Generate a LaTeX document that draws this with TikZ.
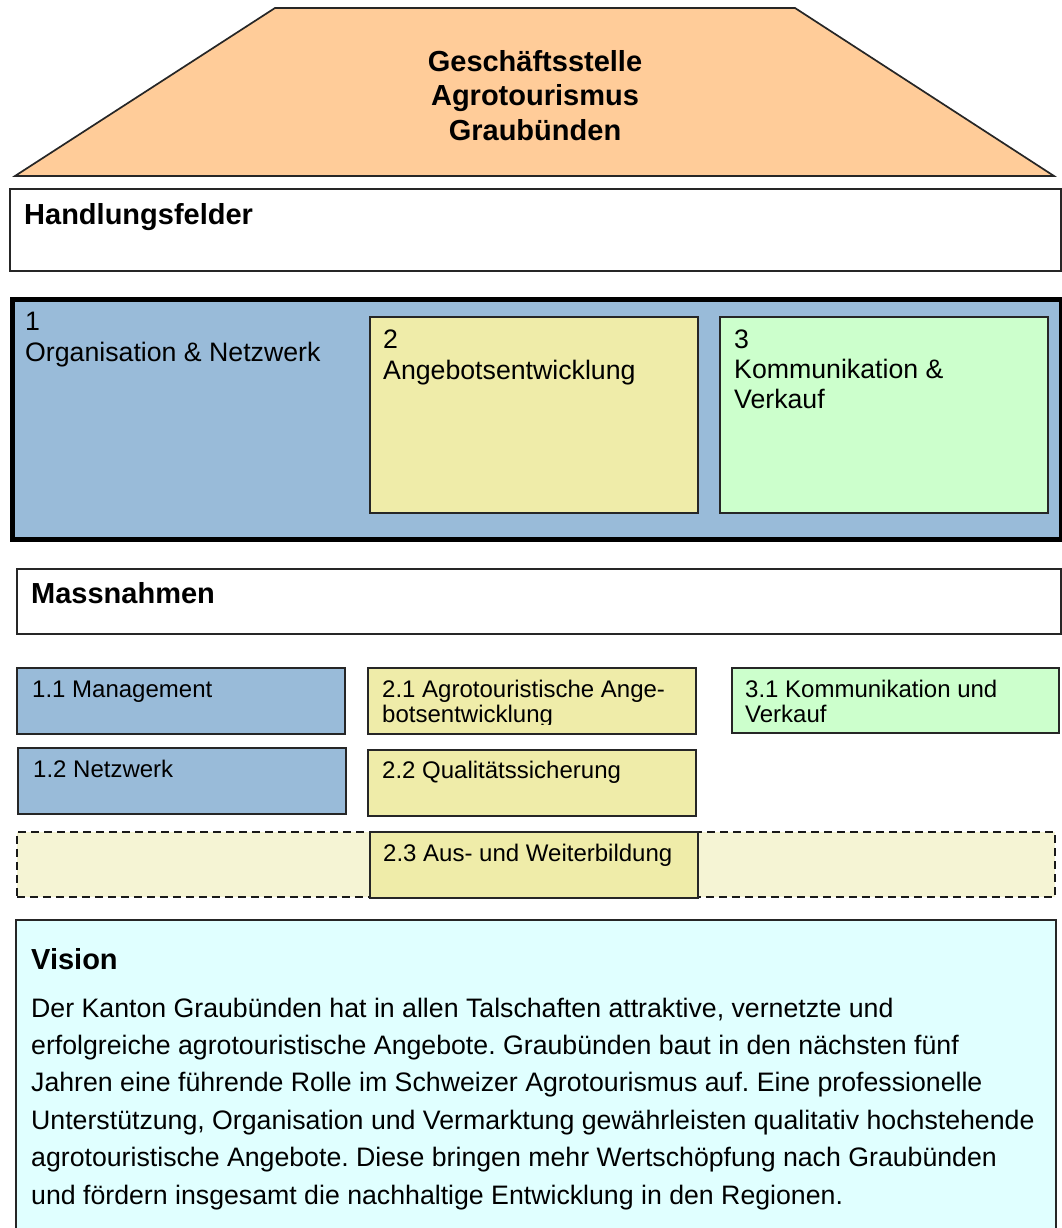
\documentclass[tikz,border=0pt]{standalone}
\usepackage{fontspec}
\setmainfont{Liberation Sans}
\frenchspacing
\definecolor{peach}{HTML}{FFCC99}
\definecolor{steel}{HTML}{99BBD9}
\definecolor{ylw}{HTML}{EFECA9}
\definecolor{mint}{HTML}{CCFFCC}
\definecolor{paleylw}{HTML}{F5F4D4}
\definecolor{cyanbg}{HTML}{E0FFFF}
\begin{document}
\begin{tikzpicture}[x=1pt,y=-1pt,
  box/.style={draw=black!85, line width=1.7pt, inner sep=0pt, anchor=north west},
  head/.style={anchor=base west, inner sep=0pt, font=\bfseries\fontsize{29}{34}\selectfont},
  lbl/.style={anchor=base west, inner sep=0pt, font=\fontsize{26.7}{31}\selectfont},
  small/.style={anchor=base west, inner sep=0pt, font=\fontsize{24}{25}\selectfont},
  body/.style={anchor=base west, inner sep=0pt, font=\fontsize{26.7}{37.4}\selectfont}]
\useasboundingbox (0,0) rectangle (1061,1228);
\fill[white] (0,0) rectangle (1061,1228);

% roof
\draw[draw=black!85, line width=1.7pt, fill=peach, line join=miter] (275,8) -- (795,8) -- (1054,176) -- (15,176) -- cycle;
\node[anchor=base, inner sep=0pt, font=\bfseries\fontsize{29}{34}\selectfont] (t1) at (535,72) {Geschäftsstelle};
\node[anchor=base, inner sep=0pt, font=\bfseries\fontsize{29}{34}\selectfont] (t2) at (535,106) {Agrotourismus};
\node[anchor=base, inner sep=0pt, font=\bfseries\fontsize{29}{34}\selectfont] (t3) at (535,140) {Graubünden};

% Handlungsfelder
\node[box, fill=white, minimum width=1051pt, minimum height=82pt] (hf) at (9,188) {};
\node[head] (hft) at (24,224) {Handlungsfelder};

% big field box
\node[draw=black, line width=5pt, fill=steel, inner sep=0pt, anchor=north west,
      minimum width=1049pt, minimum height=240pt] (f1) at (9.5,296.5) {};
\node[lbl] (f1a) at (25,330) {1};
\node[lbl] (f1b) at (25,361) {Organisation \& Netzwerk};
\node[box, fill=ylw, minimum width=328pt, minimum height=196pt] (f2) at (369,316) {};
\node[lbl] (f2a) at (383,348) {2};
\node[lbl] (f2b) at (383,379) {Angebotsentwicklung};
\node[box, fill=mint, minimum width=328pt, minimum height=196pt] (f3) at (719,316) {};
\node[lbl] (f3a) at (734,348) {3};
\node[lbl] (f3b) at (734,378) {Kommunikation \&};
\node[lbl] (f3c) at (734,408) {Verkauf};

% Massnahmen
\node[box, fill=white, minimum width=1044pt, minimum height=65pt] (mn) at (16,568) {};
\node[head] (mnt) at (31,603) {Massnahmen};

\node[box, fill=steel, minimum width=328pt, minimum height=66pt] (m11) at (16,667) {};
\node[small] (m11t) at (32,697) {1.1 Management};
\node[box, fill=ylw, minimum width=328pt, minimum height=66pt] (m21) at (367,667) {};
\begin{scope}
\clip (367,667) rectangle (695,724);
\node[small] (m21t) at (382,697) {2.1 Agrotouristische Ange-};
\node[small] (m21u) at (382,722) {botsentwicklung};
\end{scope}
\node[box, fill=mint, minimum width=327pt, minimum height=65pt] (m31) at (731,667) {};
\node[small] (m31t) at (745,697) {3.1 Kommunikation und};
\node[small] (m31u) at (745,722) {Verkauf};

\node[box, fill=steel, minimum width=328pt, minimum height=66pt] (m12) at (17,747) {};
\node[small] (m12t) at (33,777) {1.2 Netzwerk};
\node[box, fill=ylw, minimum width=328pt, minimum height=66pt] (m22) at (367,749) {};
\node[small] (m22t) at (382,778) {2.2 Qualitätssicherung};

\node[draw=black!90, line width=1.7pt, dash pattern=on 8pt off 5pt, fill=paleylw,
      inner sep=0pt, anchor=north west, minimum width=1038pt, minimum height=65pt] (dz) at (16,831) {};
\node[box, fill=ylw, minimum width=328pt, minimum height=66pt] (m23) at (369,831) {};
\node[small] (m23t) at (383,861) {2.3 Aus- und Weiterbildung};

% Vision
\fill[cyanbg] (16,920) rectangle (1056,1240);
\draw[draw=black!85, line width=1.7pt] (16,1240) -- (16,920) -- (1056,920) -- (1056,1240);
\node[head] (vh) at (31,969) {Vision};
\node[body] (v1) at (31,1017) {Der Kanton Graubünden hat in allen Talschaften attraktive, vernetzte und};
\node[body] (v2) at (31,1054.4) {erfolgreiche agrotouristische Angebote. Graubünden baut in den nächsten fünf};
\node[body] (v3) at (31,1091.8) {Jahren eine führende Rolle im Schweizer Agrotourismus auf. Eine professionelle};
\node[body] (v4) at (31,1129.2) {Unterstützung, Organisation und Vermarktung gewährleisten qualitativ hochstehende};
\node[body] (v5) at (31,1166.6) {agrotouristische Angebote. Diese bringen mehr Wertschöpfung nach Graubünden};
\node[body] (v6) at (31,1204) {und fördern insgesamt die nachhaltige Entwicklung in den Regionen.};
\end{tikzpicture}
\end{document}
